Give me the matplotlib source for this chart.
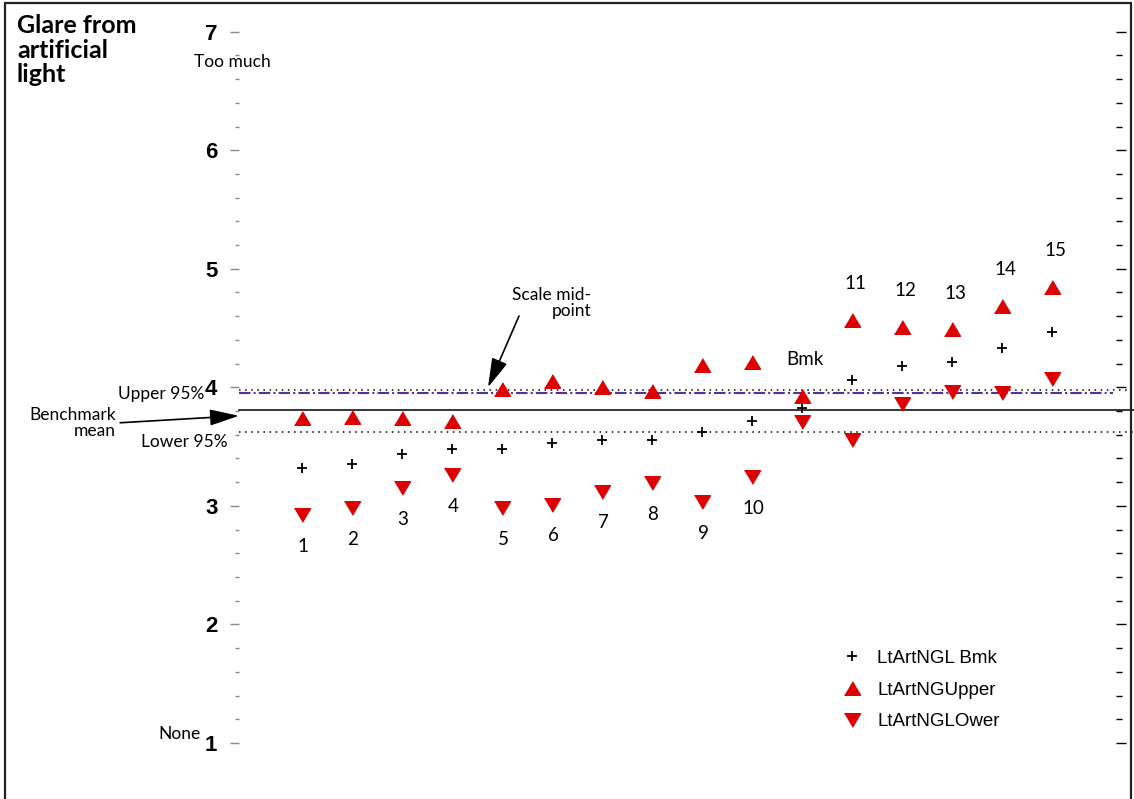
import matplotlib.pyplot as plt
from matplotlib.patches import Rectangle
import numpy as np

W, H = 1134, 799

categories = ['1', '2', '3', '4', '5', '6', '7', '8', '9', '10', 'Bmk',
              '11', '12', '13', '14', '15']
bmk_vals = [3.32, 3.35, 3.44, 3.48, 3.48, 3.53, 3.56, 3.56, 3.62, 3.72, 3.83,
            4.06, 4.18, 4.21, 4.33, 4.47]
upper_vals = [3.74, 3.75, 3.74, 3.72, 3.99, 4.05, 4.00, 3.97, 4.19, 4.21, 3.93,
              4.57, 4.51, 4.49, 4.69, 4.85]
lower_vals = [2.92, 2.98, 3.15, 3.26, 2.98, 3.01, 3.12, 3.19, 3.03, 3.24, 3.71,
              3.56, 3.86, 3.96, 3.95, 4.07]

bench_mean = 3.81
upper95 = 3.98
lower95 = 3.62
scale_mid = 3.95

series_names = ['LtArtNGL Bmk', 'LtArtNGUpper', 'LtArtNGLOwer']

RED = '#DD0000'
PURPLE = '#55309A'
LABEL_FONT = ['Lato', 'DejaVu Sans']
NUM_FONT = ['Liberation Sans', 'DejaVu Sans']


def fpx(x, y):
    # pixel position (from top-left) -> figure fraction
    return x / W, 1 - y / H


fig = plt.figure(figsize=(W / 100, H / 100), dpi=100)
ax = fig.add_axes([239 / W, 0, (1116 - 239) / W, 1])
ax.set_xlim(-1.26, 16.28)
ax.set_ylim(0.528, 7.267)
for s in ax.spines.values():
    s.set_visible(False)
ax.set_xticks([])

ax.set_yticks(np.arange(1, 8))
ax.set_yticks(np.arange(1.2, 7.0, 0.2), minor=True)
ax.tick_params(axis='y', which='major', direction='out', length=6.5, width=1,
               color='#888888', pad=9)
ax.tick_params(axis='y', which='minor', direction='out', length=3, width=1,
               color='#888888')
for lab in ax.get_yticklabels():
    lab.set_fontfamily(NUM_FONT)
    lab.set_fontweight('bold')
    lab.set_fontsize(16)

ax2 = ax.twinx()
ax2.set_ylim(ax.get_ylim())
for s in ax2.spines.values():
    s.set_visible(False)
ax2.set_yticks(np.arange(1, 8))
ax2.set_yticks(np.arange(1.2, 7.0, 0.2), minor=True)
ax2.tick_params(axis='y', which='major', direction='out', length=7.5, width=1,
                color='black', labelright=False)
ax2.tick_params(axis='y', which='minor', direction='out', length=4, width=1,
                color='black')

# reference lines
ax.axhline(upper95, xmin=0, xmax=1.016, color='black', lw=1.1,
           linestyle=(0, (1, 3)), clip_on=False)
ax.axhline(scale_mid, xmin=0, xmax=0.997, color=PURPLE, lw=1.5,
           linestyle=(0, (5.5, 1.5, 1, 1.5)), clip_on=False)
ax.axhline(bench_mean, xmin=0, xmax=1.02, color='black', lw=1.1, clip_on=False)
ax.axhline(lower95, xmin=0, xmax=1.02, color='black', lw=1.1,
           linestyle=(0, (1, 3)), clip_on=False)

x = np.arange(len(categories))
tri_up = [(-1, -0.85), (1, -0.85), (0, 0.85)]
tri_dn = [(-1, 0.85), (1, 0.85), (0, -0.85)]

ax.plot(x, bmk_vals, linestyle='none', marker='+', ms=7.5, mew=1.3,
        color='black', label=series_names[0], zorder=4)
ax.plot(x, upper_vals, linestyle='none', marker=tri_up, ms=11.5,
        color=RED, mec=RED, label=series_names[1], zorder=3)
ax.plot(x, lower_vals, linestyle='none', marker=tri_dn, ms=11.5,
        color=RED, mec=RED, label=series_names[2], zorder=3)

# point labels
for i, cat in enumerate(categories):
    if i >= 10:
        ax.annotate(cat, (x[i], upper_vals[i]), xytext=(3, 36),
                    textcoords='offset pixels', ha='center', va='center',
                    fontsize=13.5, family=LABEL_FONT)
    else:
        ax.annotate(cat, (x[i], lower_vals[i]), xytext=(1, -31),
                    textcoords='offset pixels', ha='center', va='center',
                    fontsize=13.5, family=LABEL_FONT)

# title and scale texts
fig.text(*fpx(17, 14), 'Glare from\nartificial\nlight', ha='left', va='top',
         fontsize=18, fontweight='bold', family=LABEL_FONT, linespacing=1.08)
fig.text(*fpx(271, 62), 'Too much', ha='right', va='center', fontsize=12.5,
         family=LABEL_FONT)
fig.text(*fpx(201, 734), 'None', ha='right', va='center', fontsize=12.5,
         family=LABEL_FONT)
fig.text(*fpx(204, 394), 'Upper 95%', ha='right', va='center', fontsize=12.5,
         family=LABEL_FONT)
fig.text(*fpx(228, 442), 'Lower 95%', ha='right', va='center', fontsize=12.5,
         family=LABEL_FONT)

ax.annotate('Benchmark\nmean', xy=(0, bench_mean - 0.05),
            xycoords=('axes fraction', 'data'),
            xytext=fpx(116, 423), textcoords='figure fraction',
            ha='right', va='center', multialignment='right', fontsize=12.5,
            family=LABEL_FONT, linespacing=1.05,
            arrowprops=dict(arrowstyle='-|>,head_length=0.9,head_width=0.25',
                            mutation_scale=20, color='black', lw=1.2,
                            shrinkA=1, shrinkB=0, relpos=(1, 0.5)))

ax.text(*fpx(591, 303), 'Scale mid-\npoint', transform=fig.transFigure,
        ha='right', va='center', multialignment='right', fontsize=12.5,
        family=LABEL_FONT, linespacing=1.05)
ax.annotate('', xy=(3.72, 4.0), xytext=fpx(519, 316),
            textcoords='figure fraction',
            arrowprops=dict(arrowstyle='-|>,head_length=0.9,head_width=0.25',
                            mutation_scale=20, color='black', lw=1.2,
                            shrinkA=0, shrinkB=0))

leg = ax.legend(loc='upper left', bbox_to_anchor=fpx(824, 633),
                bbox_transform=fig.transFigure, frameon=False, numpoints=1,
                handlelength=1.2, handletextpad=0.75, labelspacing=0.78,
                prop={'family': NUM_FONT, 'size': 13.5})

# figure border
fig.add_artist(Rectangle(fpx(5, 810), (1131 - 5) / W, (810 - 3) / H,
                         transform=fig.transFigure, fill=False,
                         edgecolor='#222222', lw=1.6, clip_on=False))

fig.savefig('out.png', dpi=100)
